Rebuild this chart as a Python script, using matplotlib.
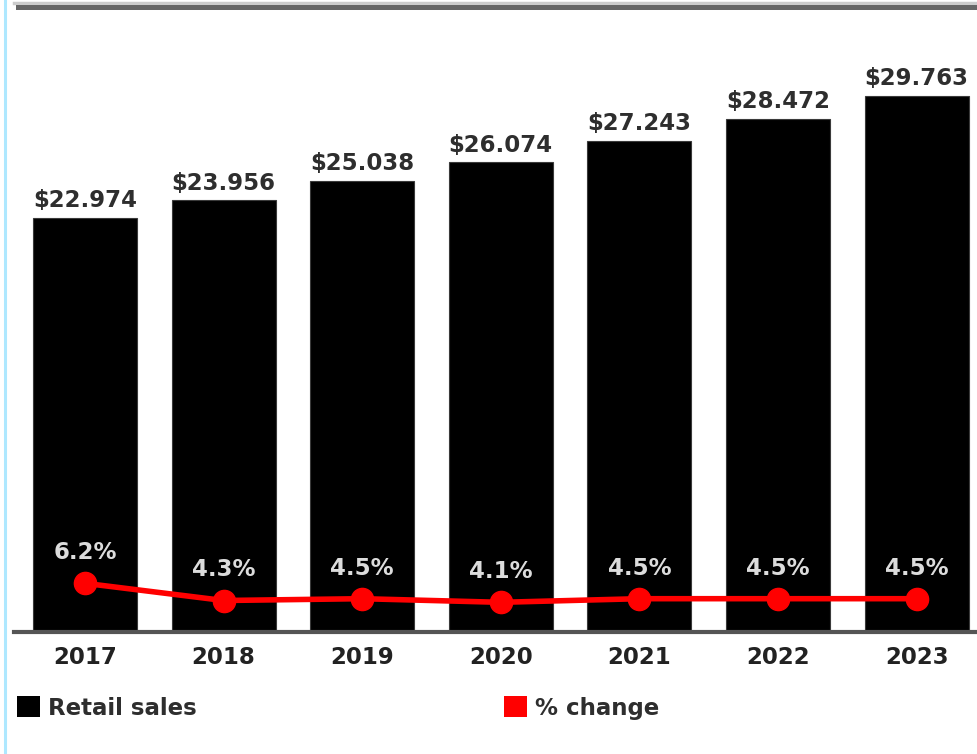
# retail sales bars with yearly % change line on a twin axis
import matplotlib.pyplot as plt
from matplotlib.patches import Patch
from matplotlib.lines import Line2D

years = ['2017', '2018', '2019', '2020', '2021', '2022', '2023']
sales = [22.974, 23.956, 25.038, 26.074, 27.243, 28.472, 29.763]
sales_labels = ['$22.974', '$23.956', '$25.038', '$26.074', '$27.243', '$28.472', '$29.763']
change = [6.2, 4.3, 4.5, 4.1, 4.5, 4.5, 4.5]
change_labels = ['6.2%', '4.3%', '4.5%', '4.1%', '4.5%', '4.5%', '4.5%']

plt.rcParams['font.family'] = 'DejaVu Sans'
fs = 16.5

fig = plt.figure(figsize=(9.78, 7.54), dpi=100)
ax = fig.add_axes([14 / 978, 122 / 754, 964 / 978, 625 / 754])
x = list(range(len(years)))

bars = ax.bar(x, sales, width=0.75, color='black', edgecolor='#3a3a3a', linewidth=0.8, zorder=2)
ax.set_xlim(-0.512, 6.443)
ax.set_ylim(0, 34.68)
for xi, v, lab in zip(x, sales, sales_labels):
    ax.annotate(lab, (xi, v), xytext=(0, 4), textcoords='offset points',
                ha='center', va='bottom', fontsize=fs, fontweight='bold', color='#2e2e2e')

ax.set_xticks(x)
ax.set_xticklabels(years, fontsize=fs, fontweight='bold', color='#222222')
ax.tick_params(axis='x', length=0, pad=10)
ax.set_yticks([])
for s in ['left', 'right', 'top']:
    ax.spines[s].set_visible(False)
ax.spines['bottom'].set_color('#555555')
ax.spines['bottom'].set_linewidth(3)
ax.spines['bottom'].set_zorder(3)

# % change on its own scale
ax2 = ax.twinx()
ax2.set_ylim(0.82, 69.88)
ax2.plot(x, change, color='#ff0000', linewidth=4, marker='o', markersize=16, zorder=4)
for xi, v, lab in zip(x, change, change_labels):
    ax2.annotate(lab, (xi, v), xytext=(0, 22), textcoords='offset points',
                 ha='center', va='center', fontsize=fs, fontweight='bold', color='#dcdcdc')
ax2.set_yticks([])
for s in ax2.spines.values():
    s.set_visible(False)

# frame lines round the chart
fig.add_artist(Line2D([5 / 978, 5 / 978], [0, 1], color='#aee8ff', linewidth=2.2))
fig.add_artist(Line2D([14 / 978, 1], [1 - 2.5 / 754, 1 - 2.5 / 754], color='#cccccc', linewidth=2.5))
fig.add_artist(Line2D([18 / 978, 1], [1 - 6.5 / 754, 1 - 6.5 / 754], color='#666666', linewidth=3.6))

handles = [Patch(facecolor='black'), Patch(facecolor='#ff0000')]
fig.legend(handles, ['Retail sales', '% change'], loc='center left',
           bbox_to_anchor=(17 / 978, 1 - 708 / 754), ncol=2, frameon=False,
           prop={'size': fs, 'weight': 'bold'}, handlelength=1.0, handleheight=1.0,
           handletextpad=0.35, columnspacing=13.4, borderpad=0, borderaxespad=0,
           labelcolor='#2e2e2e')

fig.savefig('out.png', dpi=100)
